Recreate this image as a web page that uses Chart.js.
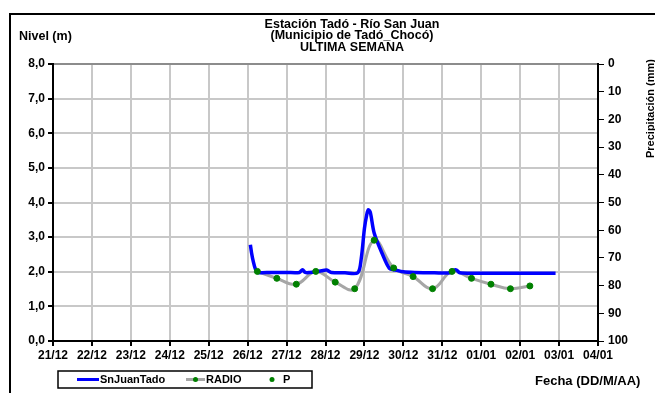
<!DOCTYPE html>
<html>
<head>
<meta charset="utf-8">
<script src="https://cdn.jsdelivr.net/npm/chart.js@4/dist/chart.umd.min.js"></script>
<style>
  html, body { margin: 0; padding: 0; background: #fff; }
  #wrap { width: 655px; height: 393px; }
</style>
</head>
<body>
<div id="wrap"><canvas id="chart" width="655" height="393"></canvas></div>
<script>
"use strict";

// date labels, one per day (x = days since 21/12)
const dateLabels = ["21/12", "22/12", "23/12", "24/12", "25/12", "26/12", "27/12", "28/12",
    "29/12", "30/12", "31/12", "01/01", "02/01", "03/01", "04/01"];

// SnJuanTado level (m)
const snJuanDays = [5.07, 5.10, 5.14, 5.20, 5.27, 5.6, 6.0, 6.33, 6.41, 6.48, 6.6, 6.75, 6.9, 7.03,
    7.15, 7.5, 7.83, 7.92, 8.0, 8.06, 8.10, 8.15, 8.25, 8.45, 8.64, 8.8, 9.0, 9.3, 9.8, 10.2, 10.28,
    10.37, 10.45, 11.0, 12.0, 12.91];
const snJuanLevel = [2.78, 2.55, 2.32, 2.08, 1.98, 1.98, 1.98, 1.98, 2.06, 1.98, 1.98, 2.0, 2.03, 2.05,
    1.98, 1.97, 1.97, 2.4, 3.25, 3.65, 3.79, 3.72, 3.12, 2.54, 2.10, 2.05, 2.0, 1.98, 1.97, 1.97, 2.04,
    2.05, 1.97, 1.96, 1.96, 1.96];

// RADIO readings, every 12 hours (also shown as P points)
const radioDays = [5.25, 5.75, 6.25, 6.75, 7.25, 7.75, 8.25, 8.75, 9.25, 9.75, 10.25, 10.75, 11.25,
    11.75, 12.25];
const radioLevel = [2.01, 1.81, 1.64, 2.01, 1.70, 1.51, 2.91, 2.11, 1.86, 1.51, 2.01, 1.81, 1.64,
    1.51, 1.59];

const titleLines = ["Estación Tadó - Río San Juan", "(Municipio de Tadó_Chocó)", "ULTIMA SEMANA"];

const BOLD = "Arial, 'Liberation Sans', sans-serif";

const toPoints = (xs, ys) => xs.map((x, i) => ({ x: x, y: ys[i] }));

// frame, titles and the boxed legend
const decorations = {
    id: "decorations",
    afterDraw(chart) {
        const ctx = chart.ctx;
        ctx.save();

        // outer frame (left and top only, the rest is cut)
        ctx.strokeStyle = "#000";
        ctx.lineWidth = 2;
        ctx.beginPath();
        ctx.moveTo(10, 393);
        ctx.lineTo(10, 14);
        ctx.lineTo(655, 14);
        ctx.stroke();

        ctx.fillStyle = "#000";
        ctx.textBaseline = "middle";

        ctx.font = "bold 12.5px " + BOLD;
        ctx.textAlign = "center";
        titleLines.forEach((t, i) => ctx.fillText(t, 352, 24.5 + i * 11.5));

        ctx.textAlign = "left";
        ctx.font = "bold 12.5px " + BOLD;
        ctx.fillText("Nivel (m)", 19, 37);
        ctx.font = "bold 13px " + BOLD;
        ctx.fillText("Fecha (DD/M/AA)", 535, 381);

        // right axis title, mostly outside the picture
        ctx.save();
        ctx.translate(645, 59);
        ctx.rotate(-Math.PI / 2);
        ctx.font = "bold 11px " + BOLD;
        ctx.textAlign = "right";
        ctx.textBaseline = "top";
        ctx.fillText("Precipitación (mm)", 0, 0);
        ctx.restore();

        // legend box
        ctx.lineWidth = 1.5;
        ctx.strokeRect(58, 371, 254, 17);
        ctx.font = "bold 11px " + BOLD;
        const ly = 379.5;

        ctx.strokeStyle = "#0000ff";
        ctx.lineWidth = 3;
        ctx.beginPath(); ctx.moveTo(77, ly); ctx.lineTo(99, ly); ctx.stroke();
        ctx.fillText("SnJuanTado", 100, ly);

        ctx.strokeStyle = "#a6a6a6";
        ctx.beginPath(); ctx.moveTo(186, ly); ctx.lineTo(205, ly); ctx.stroke();
        ctx.fillStyle = "#008000";
        ctx.beginPath(); ctx.arc(195.5, ly, 2.5, 0, Math.PI * 2); ctx.fill();
        ctx.fillStyle = "#000";
        ctx.fillText("RADIO", 206, ly);

        ctx.fillStyle = "#008000";
        ctx.beginPath(); ctx.arc(272, ly, 2.5, 0, Math.PI * 2); ctx.fill();
        ctx.fillStyle = "#000";
        ctx.fillText("P", 283, ly);

        ctx.restore();
    }
};

new Chart(document.getElementById("chart"), {
    type: "line",
    data: {
        datasets: [
            {
                label: "P",
                type: "scatter",
                data: toPoints(radioDays, radioLevel),
                backgroundColor: "#008000",
                borderColor: "#008000",
                pointRadius: 3,
                order: 0
            },
            {
                label: "RADIO",
                data: toPoints(radioDays, radioLevel),
                borderColor: "#a6a6a6",
                borderWidth: 3,
                pointRadius: 0,
                tension: 0.4,
                order: 2
            },
            {
                label: "SnJuanTado",
                data: toPoints(snJuanDays, snJuanLevel),
                borderColor: "#0000ff",
                borderWidth: 3.5,
                pointRadius: 0,
                tension: 0.3,
                order: 1
            }
        ]
    },
    options: {
        responsive: false,
        animation: false,
        devicePixelRatio: 1,
        layout: { padding: { top: 64, left: 0, right: 0, bottom: 0 } },
        plugins: { legend: { display: false }, title: { display: false }, tooltip: { enabled: false } },
        scales: {
            x: {
                type: "linear",
                min: 0,
                max: 14,
                afterFit: s => { s.height = 52; },
                border: { color: "#000", width: 2 },
                grid: { color: "#c8c8c8", lineWidth: 2, tickColor: "#000", tickLength: 5 },
                ticks: {
                    stepSize: 1,
                    padding: 2,
                    color: "#000",
                    font: { family: BOLD, size: 12, weight: "bold" },
                    maxRotation: 0,
                    callback: v => dateLabels[v]
                }
            },
            y: {
                position: "left",
                min: 0,
                max: 8,
                afterFit: s => { s.width = 53; },
                border: { color: "#000", width: 2 },
                grid: {
                    color: c => c.tick && c.tick.value === 8 ? "#8c8c8c" : "#c8c8c8",
                    lineWidth: 2,
                    tickColor: "#000",
                    tickLength: 5
                },
                ticks: {
                    stepSize: 1,
                    padding: 3,
                    color: "#000",
                    font: { family: BOLD, size: 12, weight: "bold" },
                    callback: v => v.toFixed(1).replace(".", ",")
                }
            },
            y2: {
                position: "right",
                reverse: true,
                min: 0,
                max: 100,
                afterFit: s => { s.width = 57; },
                border: { color: "#000", width: 2 },
                grid: { drawOnChartArea: false, tickColor: "#000", tickLength: 6 },
                ticks: {
                    stepSize: 10,
                    padding: 4,
                    color: "#000",
                    font: { family: BOLD, size: 12, weight: "bold" }
                }
            }
        }
    },
    plugins: [decorations]
});
</script>
</body>
</html>
